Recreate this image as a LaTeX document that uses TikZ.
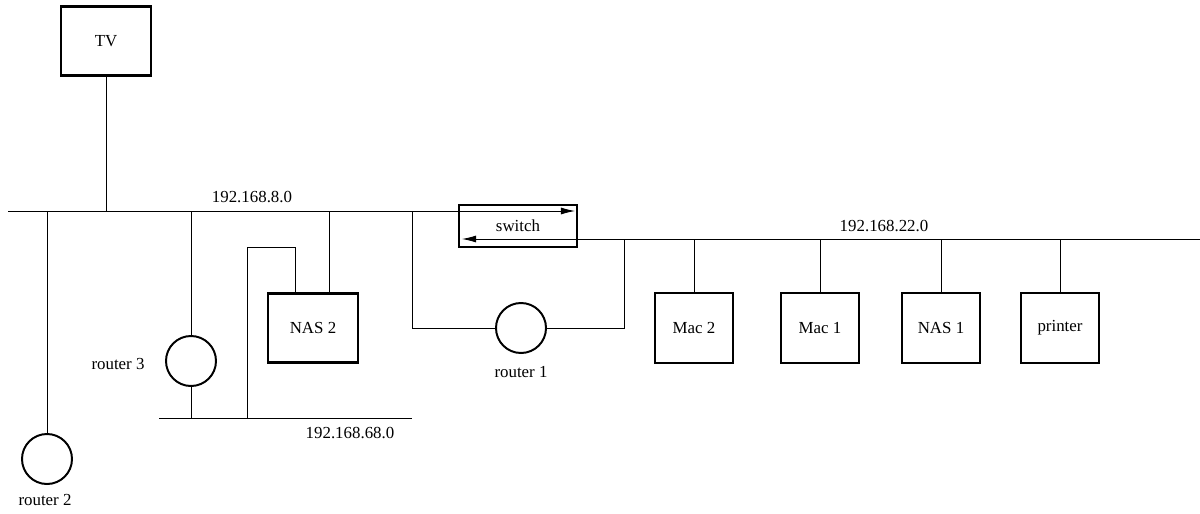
\documentclass[tikz,border=0pt]{standalone}
\usepackage{fontspec}
\setmainfont{Liberation Serif}
\usepackage{tikz}
\usetikzlibrary{positioning,arrows.meta,calc}

\begin{document}
\begin{tikzpicture}[x=0.025cm,y=-0.025cm,font=\fontsize{12}{14}\selectfont,
    host/.style={draw,line width=1.8pt,minimum width=1.95cm,minimum height=1.75cm},
    bighost/.style={host,minimum width=2.25cm,minimum height=1.72cm},
    router/.style={draw,circle,line width=1.4pt,minimum size=1.25cm,inner sep=0pt},
    wire/.style={line width=0.6pt},
    net/.style={inner sep=1pt}]
        \useasboundingbox (0,0) rectangle (1200,513);
        \node[bighost](tv)at(106,41){TV};
        \node[bighost](nas2)at(313,328){NAS 2};
        \node[host](mac2)at(694,328){Mac 2};
        \node[host](mac1)at(820,328){Mac 1};
        \node[host](nas1)at(941,328){NAS 1};
        \node[host](printer)at(1060,328){printer};
        \node[draw,line width=1.8pt,minimum width=2.95cm,minimum height=1.05cm](sw)at(518,226){switch};
        \node[router](r1)at(521,328){};
        \node[router](r2)at(47,459){};
        \node[router](r3)at(191,361){};
        \node(r1l)at(521,372){router 1};
        \node(r2l)at(45,500){router 2};
        \node(r3l)at(118,364){router 3};
        \coordinate(b8w)at(8,211);
        \coordinate(b8e)at(575,211);
        \coordinate(b22e)at(1200,239);
        \coordinate(b22w)at(462,239);
        \coordinate(b68w)at(159,418);
        \coordinate(b68e)at(412,418);
        \coordinate(t8)at(412,211);
        \coordinate(t22)at(624,239);
        \coordinate(n2k)at(247,247);
        \node[net](n8)at(252,197){192.168.8.0};
        \node[net](n22)at(884,226){192.168.22.0};
        \node[net](n68)at(350,433){192.168.68.0};
        \draw[wire,-{Latex[length=10pt,width=5pt]}](b8w)--(b8e);
        \draw[wire,-{Latex[length=10pt,width=5pt]}](b22e)--(b22w);
        \draw[wire](b68w)--(b68e);
        \draw[wire](tv.south)--(tv.south|-b8w);
        \draw[wire](r2.north)--(r2.north|-b8w);
        \draw[wire](r3.north)--(r3.north|-b8w);
        \draw[wire](r3.south)--(r3.south|-b68w);
        \draw[wire]([xshift=0.42cm]nas2.north)--([xshift=0.42cm]nas2.north|-b8w);
        \draw[wire]([xshift=-0.45cm]nas2.north)|-(n2k)--(n2k|-b68w);
        \draw[wire](t8)|-(r1.west);
        \draw[wire](r1.east)-|(t22);
        \foreach \h in {mac2,mac1,nas1,printer}
          \draw[wire](\h.north)--(\h.north|-b22e);
      \end{tikzpicture}
\end{document}
